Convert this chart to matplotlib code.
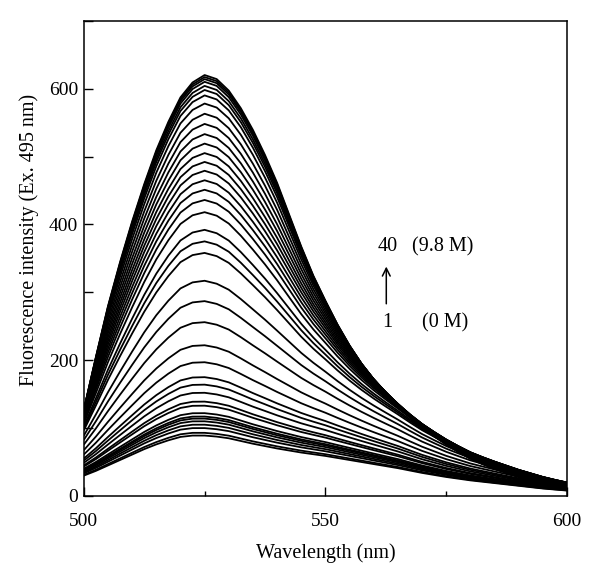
import numpy as np
import matplotlib
matplotlib.use("Agg")
import matplotlib.pyplot as plt
from matplotlib.ticker import MultipleLocator

wavelength = np.arange(500.0, 600.01, 2.5)

# Highest spectrum (curve 40)
top_curve = [127, 205, 280, 345, 405, 460, 510, 552, 588, 610,
             621, 615, 598, 572, 540, 503, 462, 415, 368, 325,
             288, 253, 222, 195, 172, 152, 133, 116, 101, 88,
             76, 65, 55, 47, 40, 34, 28, 24, 20, 16, 13]

# Lowest spectrum (curve 1)
bottom_curve = [30, 37, 45, 53, 61, 69, 76, 82, 87, 89,
                89, 87.5, 85, 81, 77, 73.5, 70, 67, 64, 61.5,
                59, 56, 53, 50, 47, 44, 41, 37.5, 34, 31,
                28, 25.5, 23, 21, 19, 17, 15, 13, 11, 9.5, 8]

# Peak intensities of the 40 spectra (curve 1 .. 40)
peaks = [89, 93, 100, 105, 110, 114, 117, 122, 133, 139,
         152, 164, 175, 197, 222, 256, 287, 317, 358, 375,
         392, 418, 436, 451, 465, 479, 492, 505, 519, 533,
         548, 563, 578, 590, 598, 604, 610, 614, 617, 620]

plt.rcParams['font.family'] = ['Liberation Serif', 'DejaVu Serif']
FS = 14.5

fig = plt.figure(figsize=(6.0, 5.77), dpi=100)
ax = fig.add_axes([0.1397, 0.1404, 0.8053, 0.8237])

top_n = np.array(top_curve) / max(top_curve)
bot_n = np.array(bottom_curve) / max(bottom_curve)
pmin, pmax = min(peaks), max(peaks)
for p in peaks:
    t = (p - pmin) / (pmax - pmin)
    ax.plot(wavelength, p * ((1 - t) * bot_n + t * top_n),
            color='black', lw=1.3, solid_capstyle='butt')

ax.set_xlim(500, 600)
ax.set_ylim(0, 700)
ax.xaxis.set_major_locator(MultipleLocator(50))
ax.xaxis.set_minor_locator(MultipleLocator(25))
ax.yaxis.set_major_locator(MultipleLocator(200))
ax.yaxis.set_minor_locator(MultipleLocator(100))
ax.tick_params(which='both', direction='in', labelsize=14, width=1.0,
               top=False, right=False)
ax.tick_params(axis='x', which='major', length=6.5, pad=12)
ax.tick_params(axis='x', which='minor', length=3.5)
ax.tick_params(axis='y', which='both', length=6.5, pad=4)
for s in ax.spines.values():
    s.set_linewidth(1.1)

ax.set_xlabel('Wavelength (nm)', fontsize=FS)
ax.set_ylabel('Fluorescence intensity (Ex. 495 nm)', fontsize=FS)
ax.xaxis.set_label_coords(0.5, -0.100)
ax.yaxis.set_label_coords(-0.092, 0.539)

ax.text(562.8, 367, '40', fontsize=FS, ha='center', va='center')
ax.text(568.0, 367, '(9.8 M)', fontsize=FS, ha='left', va='center')
ax.text(562.8, 255, '1', fontsize=FS, ha='center', va='center')
ax.text(570.0, 255, '(0 M)', fontsize=FS, ha='left', va='center')
ax.annotate('', xy=(562.6, 342), xytext=(562.6, 279),
            arrowprops=dict(arrowstyle='->', color='black', lw=1.1,
                            mutation_scale=14))

fig.savefig('out.png', dpi=100)
